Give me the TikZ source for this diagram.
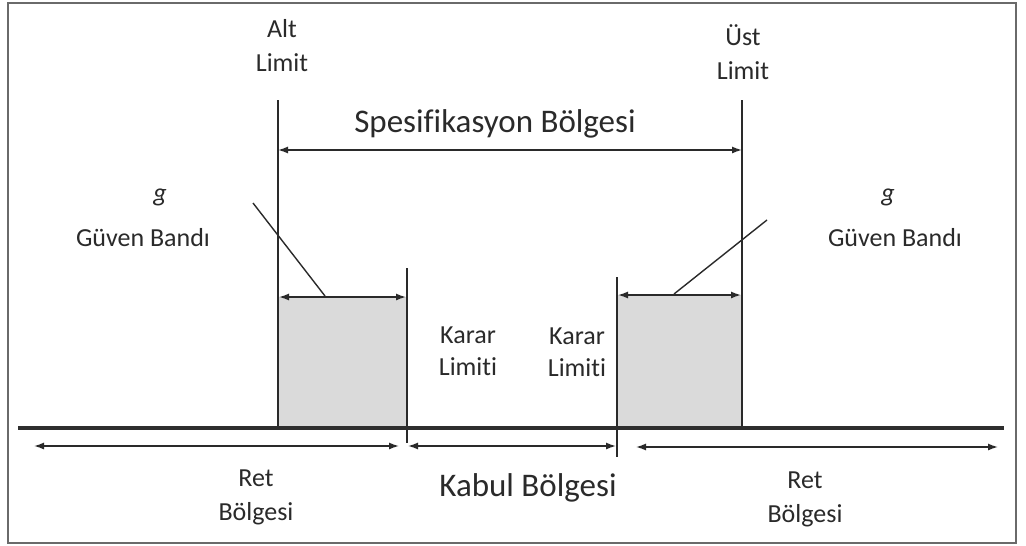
\documentclass[tikz,border=0pt]{standalone}
\usepackage{fontspec}
\setmainfont{Carlito}[Ligatures=NoCommon]
\usetikzlibrary{arrows.meta}
\definecolor{ink}{HTML}{2A2A2A}
\definecolor{frame}{HTML}{6A6A6A}
\definecolor{band}{HTML}{DADADA}
\definecolor{axis}{HTML}{2E2E2E}
\begin{document}
\begin{tikzpicture}[x=1pt,y=-1pt,
  lbl/.style={text=ink, font=\fontsize{26}{34}\selectfont, align=center, inner sep=0pt},
  big/.style={text=ink, font=\fontsize{33}{38}\selectfont, inner sep=0pt},
  ln/.style={draw=ink, line width=1.4pt},
  dim/.style={ln, {Latex[length=10pt,width=7pt]}-{Latex[length=10pt,width=7pt]}},
  shade/.style={fill=band},
  baseaxis/.style={draw=axis, line width=4pt}
]
\useasboundingbox (0,0) rectangle (1026,546);
\fill[white] (0,0) rectangle (1026,546);
\draw[frame, line width=2.5pt] (8,3) rectangle (1016,543);

% key coordinates
\coordinate (A0) at (278,100); \coordinate (A1) at (278,428);
\coordinate (U0) at (742,100); \coordinate (U1) at (742,428);
\coordinate (K0) at (407,268); \coordinate (K1) at (407,443);
\coordinate (R0) at (617,277); \coordinate (R1) at (617,457);

% shaded guard bands
\fill[shade] (278,297) rectangle (407,428);
\fill[shade] (617,295) rectangle (742,428);

% vertical limit lines
\draw[ln] (A0) -- (A1);
\draw[ln] (U0) -- (U1);
\draw[ln] (K0) -- (K1);
\draw[ln] (R0) -- (R1);

% base axis
\coordinate (B0) at (18,428); \coordinate (B1) at (1004,428);
\draw[baseaxis] (B0) -- (B1);

% specification arrow
\coordinate (S0) at (278,150); \coordinate (S1) at (742,150);
\draw[dim] (S0) -- (S1);

% guard band arrows
\coordinate (G0) at (279,297); \coordinate (G1) at (406,297);
\draw[dim] (G0) -- (G1);
\coordinate (H0) at (618,295); \coordinate (H1) at (741,295);
\draw[dim] (H0) -- (H1);

% leader lines
\coordinate (L0) at (253,203); \coordinate (L1) at (325,296);
\draw[ln] (L0) -- (L1);
\coordinate (M0) at (767,220); \coordinate (M1) at (674,294);
\draw[ln] (M0) -- (M1);

% bottom region arrows
\coordinate (P0) at (34,446); \coordinate (P1) at (399,446);
\draw[dim] (P0) -- (P1);
\coordinate (Q0) at (408,446); \coordinate (Q1) at (616,446);
\draw[dim] (Q0) -- (Q1);
\coordinate (T0) at (636,447); \coordinate (T1) at (998,447);
\draw[dim] (T0) -- (T1);

% labels
\node[lbl] (alt) at (282,46) {Alt\\Limit};
\node[lbl] (ust) at (743,52) {Üst\\Limit};
\node[big] (spec) at (495,124) {Spesifikasyon Bölgesi};
\node[lbl] (gl) at (160,197) {\itshape g};
\node[lbl] (gbl) at (143,238) {Güven Bandı};
\node[lbl] (gr) at (888,197) {\itshape g};
\node[lbl] (gbr) at (895,238) {Güven Bandı};
\node[lbl, font=\fontsize{26}{32}\selectfont] (kl) at (468,351) {Karar\\Limiti};
\node[lbl, font=\fontsize{26}{32}\selectfont] (kr) at (577,352) {Karar\\Limiti};
\node[lbl] (retl) at (256,497) {Ret\\Bölgesi};
\node[big] (kabul) at (528,488) {Kabul Bölgesi};
\node[lbl] (retr) at (805,499) {Ret\\Bölgesi};
\end{tikzpicture}
\end{document}
